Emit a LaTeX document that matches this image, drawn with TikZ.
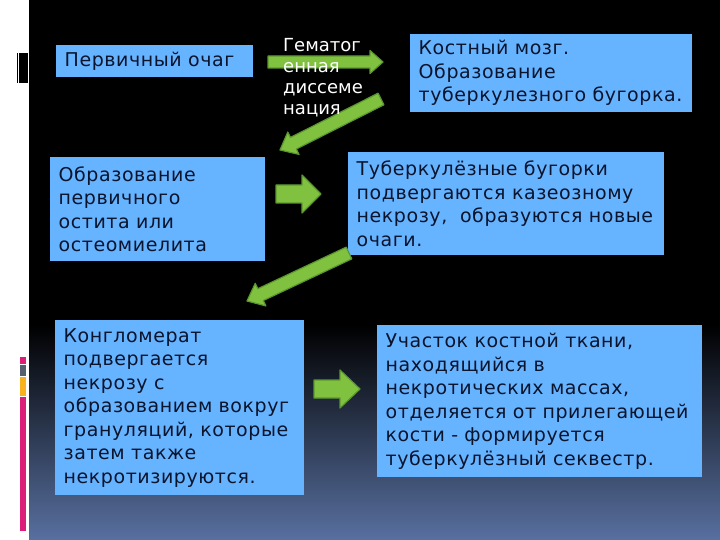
\documentclass[tikz,border=0pt]{standalone}
\usepackage{fontspec}
\setmainfont{DejaVu Sans}
\newfontfamily\boxfont[LetterSpace=3]{DejaVu Sans}
\usetikzlibrary{calc}
\definecolor{boxblue}{RGB}{102,180,255}
\definecolor{boxtext}{RGB}{10,20,45}
\definecolor{arrfill}{RGB}{128,194,64}
\definecolor{arrline}{RGB}{92,150,48}
\definecolor{bgbottom}{RGB}{88,112,160}
\definecolor{barpink}{RGB}{220,30,120}
\definecolor{bargray}{RGB}{85,95,110}
\definecolor{barorange}{RGB}{248,178,30}
\tikzset{
  infobox/.style={fill=boxblue, text=boxtext, anchor=north west, inner xsep=8.5pt, inner ysep=0pt,
    align=left, font=\boxfont\fontsize{19}{23.5}\selectfont},
  greenarrow/.style={fill=arrfill, draw=arrline, line width=1.2pt, line join=round},
  whitelabel/.style={text=white, anchor=north west, inner sep=0pt, align=left,
    font=\fontsize{18}{21}\selectfont}
}
% tail, tip, shaft half width, head half width, head length
\newcommand{\blkarrow}[5]{%
  \coordinate (ba-h) at ($(#2)!#5!(#1)$);
  \draw[greenarrow] ($(#1)!#3!90:(#2)$) -- ($(ba-h)!#3!90:(#2)$) -- ($(ba-h)!#4!90:(#2)$)
    -- (#2) -- ($(ba-h)!#4!-90:(#2)$) -- ($(ba-h)!#3!-90:(#2)$) -- ($(#1)!#3!-90:(#2)$) -- cycle;
}
\begin{document}
\begin{tikzpicture}[x=1pt,y=-1pt]
\useasboundingbox (0,0) rectangle (720,540);
% background
\fill[white] (0,0) rectangle (720,540);
\fill[black] (29,0) rectangle (720,325);
\shade[top color=black, bottom color=bgbottom] (29,324.5) rectangle (720,540);
% left decorations
\fill[black] (17,53) rectangle (18.2,83);
\fill[black] (19,53) rectangle (28,83);
\fill[barpink] (20,357) rectangle (26,364);
\fill[bargray] (20,365) rectangle (26,376);
\fill[barorange] (20,377) rectangle (26,396);
\fill[barpink] (20,397) rectangle (26,531);
% boxes
\node[infobox, minimum width=197pt, minimum height=32pt, text width=180pt] (b1) at (56,45)
  {Первичный очаг};
\node[infobox, minimum width=282pt, minimum height=78pt, text width=265pt] (b2) at (410,34)
  {Костный мозг.\\Образование\\туберкулезного бугорка.};
\node[infobox, minimum width=215pt, minimum height=104pt, text width=198pt] (b3) at (50,157)
  {Образование\\первичного\\остита или\\остеомиелита};
\node[infobox, minimum width=316pt, minimum height=103pt, text width=299pt] (b4) at (348,152)
  {Туберкулёзные бугорки\\подвергаются казеозному\\некрозу,\ \ образуются новые\\очаги.};
\node[infobox, minimum width=249pt, minimum height=175pt, text width=232pt] (b5) at (55,320)
  {Конгломерат\\подвергается\\некрозу с\\образованием вокруг\\грануляций, которые\\затем также\\некротизируются.};
\node[infobox, minimum width=325pt, minimum height=152pt, text width=308pt] (b6) at (377,325)
  {Участок костной ткани,\\находящийся в\\некротических массах,\\отделяется от прилегающей\\кости - формируется\\туберкулёзный секвестр.};
% arrows
\coordinate (a1t) at (268,62); \coordinate (a1h) at (383,62);
\coordinate (a2t) at (381,99); \coordinate (a2h) at (280,150);
\coordinate (a3t) at (276,194); \coordinate (a3h) at (321,194);
\coordinate (a4t) at (349,253); \coordinate (a4h) at (247,301);
\coordinate (a5t) at (314,389); \coordinate (a5h) at (360,389);
\blkarrow{a1t}{a1h}{6pt}{11.5pt}{13pt}
\blkarrow{a2t}{a2h}{6.5pt}{12.5pt}{15pt}
\blkarrow{a3t}{a3h}{9pt}{19pt}{19pt}
\blkarrow{a4t}{a4h}{6.5pt}{12.5pt}{15pt}
\blkarrow{a5t}{a5h}{9pt}{19pt}{20pt}
% label
\node[whitelabel] (lbl) at (283,38) {Гематог\\енная\\диссеме\\нация};
\end{tikzpicture}
\end{document}
